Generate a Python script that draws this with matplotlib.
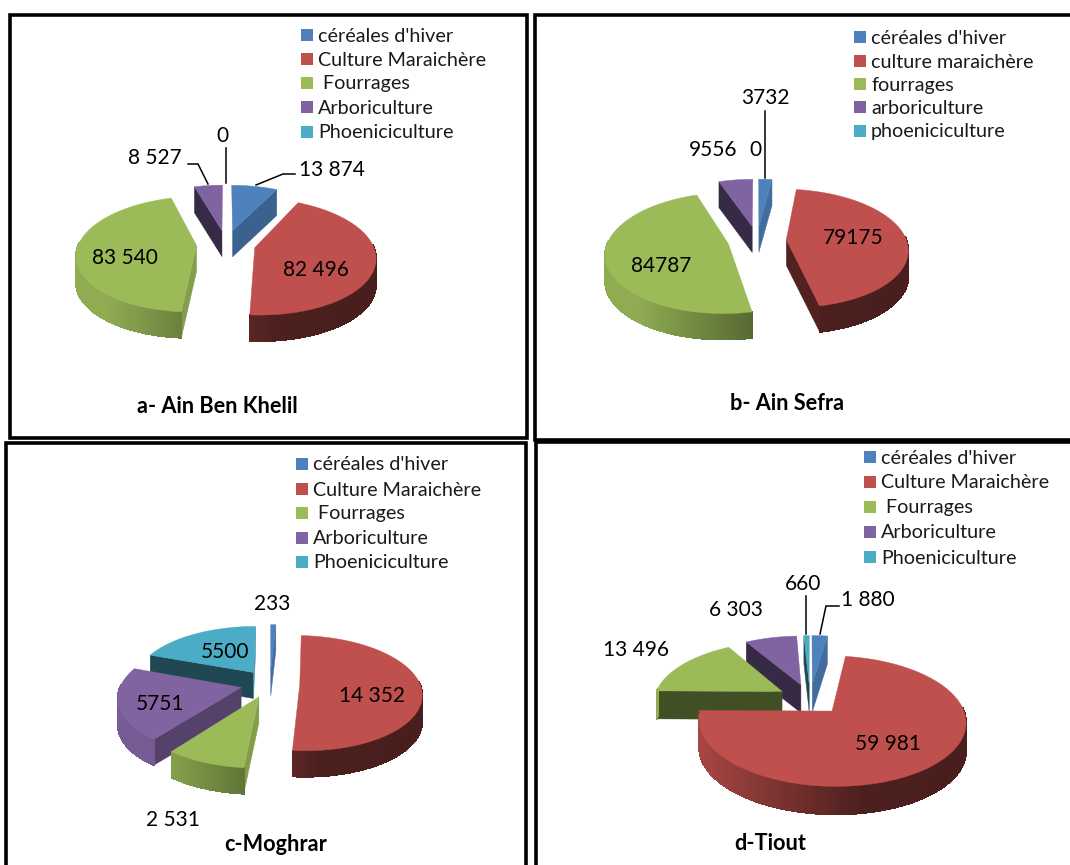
from __future__ import annotations

import matplotlib

matplotlib.use("Agg")
import matplotlib.pyplot as plt
import numpy as np
from matplotlib.collections import PolyCollection
from matplotlib.colors import to_rgb
from matplotlib.patches import Polygon, Rectangle

plt.rcParams["font.family"] = ["Lato", "DejaVu Sans"]

COLORS = ["#4F81BD", "#C0504D", "#9BBB59", "#8064A2", "#4BACC6"]

# values, clockwise from the top: cereales, maraichere, fourrages, arbo, phoeni
values_a = [13874, 82496, 83540, 8527, 0]
values_b = [3732, 79175, 84787, 9556, 0]
values_c = [233, 14352, 2531, 5751, 5500]
values_d = [1880, 59981, 13496, 6303, 660]

legend_upper = ["céréales d'hiver", "Culture Maraichère", " Fourrages", "Arboriculture", "Phoeniciculture"]
legend_lower = ["céréales d'hiver", "culture maraichère", "fourrages", "arboriculture", "phoeniciculture"]

labels_a = ["13 874", "82 496", "83 540", "8 527", "0"]
labels_b = ["3732", "79175", "84787", "9556", "0"]
labels_c = ["233", "14 352", "2 531", "5751", "5500"]
labels_d = ["1 880", "59 981", "13 496", "6 303", "660"]

PANELS = [
    {
        "values": values_a, "labels": labels_a, "legend": legend_upper, "title": "a- Ain Ben Khelil",
        "center": (226, 244), "rx": 118, "ry": 56, "depth": 26, "explode": 0.25,
        "label_pos": [(332, 169), (316, 269), (125, 257), (155, 157), (222, 135)],
        "title_pos": (217, 405), "legend_pos": (301, 318, [35, 59, 83, 107, 132]),
        "leaders": [[(295, 174), (283, 174), (256, 185)], [(188, 164), (198, 164), (208, 184)], [(226, 148), (226, 183)]],
    },
    {
        "values": values_b, "labels": labels_b, "legend": legend_lower, "title": "b- Ain Sefra",
        "center": (757, 240), "rx": 120, "ry": 58, "depth": 26, "explode": 0.245,
        "label_pos": [(765, 97), (853, 237), (661, 265), (713, 149), (755, 149)],
        "title_pos": (787, 402), "legend_pos": (854, 871, [37, 61, 84, 107, 131]),
        "leaders": [[(765, 111), (765, 178)]],
    },
    {
        "values": values_c, "labels": labels_c, "legend": legend_upper, "title": "c-Moghrar",
        "center": (270, 683.5), "rx": 120, "ry": 56, "depth": 26, "explode": 0.248,
        "label_pos": [(272, 603), (372, 695), (173, 819), (160, 703), (225, 651)],
        "title_pos": (276, 843), "legend_pos": (296, 313, [464, 489, 513, 538, 562]),
        "leaders": [],
    },
    {
        "values": values_d, "labels": labels_d, "legend": legend_upper, "title": "d-Tiout",
        "center": (810, 699), "rx": 128, "ry": 60, "depth": 28, "explode": 0.257,
        "label_pos": [(868, 599), (888, 742), (636, 649), (736, 609), (803, 583)],
        "title_pos": (770, 842), "legend_pos": (864, 881, [457, 482, 507, 532, 557]),
        "leaders": [[(839, 606), (826, 606), (820, 634)], [(806, 596), (806, 634)]],
    },
]
PERSPECTIVE = 0.15


def shade(color: str, factor: float) -> tuple[float, float, float]:
    return tuple(c * factor for c in to_rgb(color))


def project(panel: dict, x: np.ndarray, v: np.ndarray) -> np.ndarray:
    cx, cy = panel["center"]
    scale = 1.0 / (1.0 + PERSPECTIVE * v)
    return np.column_stack([cx + x * panel["rx"] * scale, cy - v * panel["ry"] * scale])


def draw_slice(ax, panel: dict, start: float, sweep: float, color: str) -> None:
    mid = start + sweep / 2
    off_x = panel["explode"] * np.sin(mid)
    off_v = panel["explode"] * np.cos(mid)
    depth = panel["depth"]
    theta = np.linspace(start, start + sweep, max(int(np.degrees(sweep)), 2) + 1)
    rim = project(panel, off_x + np.sin(theta), off_v + np.cos(theta))
    apex = project(panel, np.array([off_x]), np.array([off_v]))[0]
    down = np.array([0, depth])

    # flat cut faces, only the ones turned to the viewer
    edges = [
        (rim[0], -np.cos(start), np.sin(start)),
        (rim[-1], np.cos(start + sweep), -np.sin(start + sweep)),
    ]
    for end, nx, nv in edges:
        if nv < 0:
            factor = np.interp(nx, [0, 0.8, 1], [0.42, 0.66, 0.85])
            quad = [apex, end, end + down, apex + down]
            ax.add_patch(Polygon(quad, closed=True, fc=shade(color, factor), ec=shade(color, factor), lw=0.3))

    # outer wall, shaded from left to right
    quads, shades = [], []
    for i in range(len(theta) - 1):
        t_mid = (theta[i] + theta[i + 1]) / 2
        if np.cos(t_mid) > 0.05:
            continue
        quads.append([rim[i], rim[i + 1], rim[i + 1] + down, rim[i] + down])
        pos = (rim[i][0] - panel["center"][0]) / panel["rx"]
        shades.append(shade(color, np.interp(pos, [-1, 0, 0.4, 1], [0.92, 0.55, 0.4, 0.38])))
    if quads:
        ax.add_collection(PolyCollection(quads, facecolors=shades, edgecolors=shades, linewidths=0.6, antialiaseds=False))

    top = np.vstack([apex, rim])
    ax.add_patch(Polygon(top, closed=True, fc=color, ec=color, lw=0.3))


def draw_panel(ax, panel: dict) -> None:
    values = np.array(panel["values"], dtype=float)
    sweeps = values / values.sum() * 2 * np.pi
    starts = np.concatenate([[0], np.cumsum(sweeps)[:-1]])
    # back slices first so the front ones cover them
    order = np.argsort(-np.cos(starts + sweeps / 2))
    for i in order:
        if values[i] > 0:
            draw_slice(ax, panel, starts[i], sweeps[i], COLORS[i])

    for path in panel["leaders"]:
        xs, ys = zip(*path)
        ax.plot(xs, ys, color="black", lw=1.1, solid_joinstyle="miter")
    for text, (x, y) in zip(panel["labels"], panel["label_pos"]):
        ax.text(x, y + 1.5, text, ha="center", va="center", fontsize=15, color="black")
    tx, ty = panel["title_pos"]
    ax.text(tx, ty + 1.5, panel["title"], ha="center", va="center", fontsize=15.6, fontweight="bold")

    swatch_x, text_x, rows = panel["legend_pos"]
    for color, text, y in zip(COLORS, panel["legend"], rows):
        ax.add_patch(Rectangle((swatch_x, y - 6), 12, 12, fc=color, ec="none"))
        ax.text(text_x, y + 1, text, ha="left", va="center", fontsize=14.2, color="#1a1a1a")


fig = plt.figure(figsize=(10.7, 8.65), dpi=100)
ax = fig.add_axes([0, 0, 1, 1])
ax.set_xlim(0, 1070)
ax.set_ylim(865, 0)
ax.axis("off")

# panel frames
frames = [(10, 14.5, 517, 423.5), (535, 14.5, 560, 425), (6, 443, 520, 450), (536, 442, 560, 450)]
for x, y, w, h in frames:
    ax.add_patch(Rectangle((x, y), w, h, fc="white", ec="black", lw=2.6))

for panel in PANELS:
    draw_panel(ax, panel)

fig.savefig("out.png", dpi=100)
plt.close(fig)
